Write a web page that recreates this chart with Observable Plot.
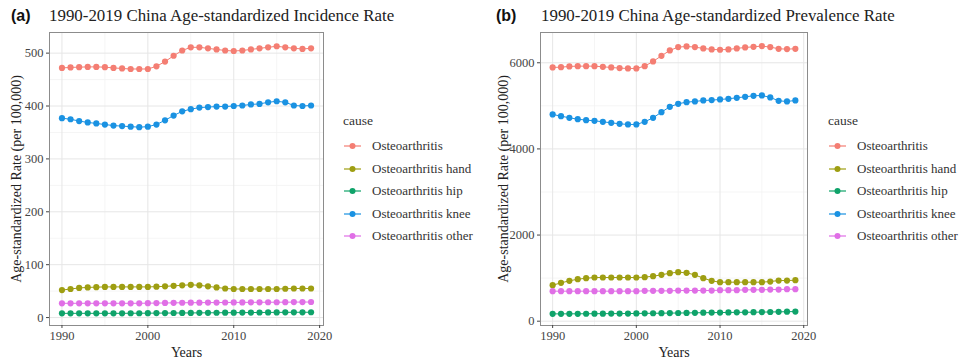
<!DOCTYPE html>
<html>
<head>
<meta charset="utf-8">
<script src="https://cdn.jsdelivr.net/npm/d3@7"></script>
<script src="https://cdn.jsdelivr.net/npm/@observablehq/plot@0.6"></script>
<style>
  html, body { margin: 0; padding: 0; background: #fff; }
  #root { position: relative; width: 960px; height: 362px; overflow: hidden; font-family: "Liberation Serif", serif; }
  .panel { position: absolute; top: 0; }
  .tag { position: absolute; font-family: "Liberation Sans", Arial, sans-serif; font-weight: bold; font-size: 16px; color: #111; line-height: 20px; }
  .ttl { position: absolute; font-family: "Liberation Serif", serif; font-size: 16.9px; color: #222; white-space: nowrap; line-height: 20px; }
  .legend { position: absolute; font-family: "Liberation Serif", serif; color: #333; }
  .legend .lt { font-size: 13.5px; margin-bottom: 6px; }
  .legend .it { display: flex; align-items: center; height: 22.5px; font-size: 13px; white-space: nowrap; }
  .legend svg { margin-right: 10px; }
</style>
</head>
<body>
<div id="root"></div>
<script>
const years = d3.range(1990, 2020);
const causes = ["Osteoarthritis", "Osteoarthritis hand", "Osteoarthritis hip", "Osteoarthritis knee", "Osteoarthritis other"];
const colors = ["#F47E73", "#9E9E12", "#0FA36A", "#1A92E2", "#E06FE6"];

// (a) incidence
const incOA    = [472,473,473.5,474,474,473.5,472,471,470,470,470,475,484,495,505,511,511,509,507,505,504,505,507,509,511,513,511,509,508,509];
const incHand  = [52,54,56,57,57.5,58,58,58,58,58,58,58.5,59,60,61,62,61,59,57,55,54,54,54,54,54,54,54.5,55,55,55];
const incHip   = [8,8,8,8,8,8,8,8,8.2,8.2,8.3,8.4,8.5,8.6,8.7,8.8,8.9,9,9.1,9.2,9.3,9.4,9.5,9.6,9.7,9.8,9.9,10,10,10.1];
const incKnee  = [377,375,371.5,369,367,365,363,362,361,360,361,365,373,382,390,394,397,398,399,399,400,401,403,404,407,409,407,401,400,401];
const incOther = [27,27,27,27,27,27,27,27,27,27,27.2,27.4,27.6,27.8,28,28.1,28.2,28.3,28.4,28.5,28.6,28.7,28.8,28.9,29,29,29.1,29.2,29.3,29.4];

// (b) prevalence
const prevOA    = [5891,5899,5915,5922,5922,5922,5907,5891,5876,5868,5868,5922,6031,6162,6286,6364,6379,6364,6333,6310,6302,6310,6333,6356,6371,6387,6364,6325,6317,6325];
const prevHand  = [836,890,937,975,998,1014,1014,1014,1014,1014,1014,1022,1045,1076,1115,1138,1122,1076,998,937,906,906,906,906,906,906,921,944,944,952];
const prevHip   = [170,170,171,172,173,174,175,176,177,178,180,182,184,186,188,190,192,195,197,199,201,203,205,207,209,211,214,217,220,224];
const prevKnee  = [4800,4761,4722,4691,4668,4653,4630,4606,4583,4568,4568,4630,4722,4854,4978,5048,5086,5102,5125,5133,5148,5164,5187,5210,5233,5241,5195,5117,5102,5125];
const prevOther = [697,697,697,697,697,697,697,697,697,697,697,704,704,704,704,712,712,712,712,712,720,720,720,728,728,728,735,735,743,743];

const yTicksA = [0,100,200,300,400,500];
const yTicksB = [0,2000,4000,6000];
const xTicks = [1990,2000,2010,2020];
const xMinor = [1995,2005,2015];

function toRows(series) {
  const rows = [];
  series.forEach((vals, i) => vals.forEach((v, j) => rows.push({year: years[j], value: v, cause: causes[i]})));
  return rows;
}

function panel(opts) {
  const rows = toRows(opts.series);
  const yMinor = opts.yTicks.slice(0, -1).map((t, i) => (t + opts.yTicks[i+1]) / 2);
  yMinor.push(opts.yTicks[opts.yTicks.length-1] + (opts.yTicks[1]-opts.yTicks[0])/2);
  const fr = opts.frame;
  return Plot.plot({
    width: 480, height: 362,
    marginLeft: fr.left, marginRight: 480 - fr.right, marginTop: fr.top, marginBottom: 362 - fr.bottom,
    style: {fontFamily: "Liberation Serif, serif", fontSize: "12px", color: "#4d4d4d", background: "transparent", overflow: "visible"},
    x: {domain: [1988.55, 2020.45]},
    y: {domain: opts.yDomain},
    color: {domain: causes, range: colors},
    marks: [
      Plot.gridX(xMinor, {stroke: "#f2f2f2", strokeOpacity: 1, strokeWidth: 0.8}),
      Plot.gridY(yMinor.filter(v => v < opts.yDomain[1]), {stroke: "#f2f2f2", strokeOpacity: 1, strokeWidth: 0.8}),
      Plot.gridX(xTicks, {stroke: "#e6e6e6", strokeOpacity: 1, strokeWidth: 1}),
      Plot.gridY(opts.yTicks, {stroke: "#e6e6e6", strokeOpacity: 1, strokeWidth: 1}),
      Plot.line(rows, {x: "year", y: "value", z: "cause", stroke: "cause", strokeWidth: 1}),
      Plot.dot(rows, {x: "year", y: "value", fill: "cause", r: 3.1}),
      Plot.frame({stroke: "#8c8c8c", strokeWidth: 1}),
      Plot.axisX(xTicks, {tickSize: 3, tickPadding: 3, tickFormat: d => String(d), label: null, fontSize: 12.5, fill: "#444", stroke: "#444"}),
      Plot.axisY(opts.yTicks, {tickSize: 3, tickPadding: 3, tickFormat: d => String(d), label: null, fontSize: 12.5, fill: "#444", stroke: "#444"}),
      Plot.text(["Age-standardized Rate (per 100,000)"], {frameAnchor: "left", textAnchor: "middle", rotate: -90, dx: opts.ylabDx, fontSize: 14, fill: "#222", lineAnchor: "middle"}),
      Plot.text(["Years"], {frameAnchor: "bottom", dy: 27, fontSize: 14, fill: "#222", lineAnchor: "middle"})
    ]
  });
}

function legend(left, top) {
  const div = document.createElement("div");
  div.className = "legend";
  div.style.left = left + "px";
  div.style.top = top + "px";
  const t = document.createElement("div");
  t.className = "lt";
  t.textContent = "cause";
  div.appendChild(t);
  causes.forEach((c, i) => {
    const it = document.createElement("div");
    it.className = "it";
    it.innerHTML = `<svg width="19" height="12"><line x1="1" y1="6" x2="18" y2="6" stroke="${colors[i]}" stroke-width="1.2"/><circle cx="9.5" cy="6" r="3" fill="${colors[i]}"/></svg><span>${c}</span>`;
    div.appendChild(it);
  });
  return div;
}

const root = document.getElementById("root");

const pa = panel({
  series: [incOA, incHand, incHip, incKnee, incOther],
  frame: {left: 49, right: 323, top: 32, bottom: 325},
  yDomain: [-15, 539],
  yTicks: yTicksA,
  ylabDx: -33
});
const wa = document.createElement("div"); wa.className = "panel"; wa.style.left = "0px"; wa.appendChild(pa); root.appendChild(wa);

const pb = panel({
  series: [prevOA, prevHand, prevHip, prevKnee, prevOther],
  frame: {left: 60, right: 327, top: 32, bottom: 325},
  yDomain: [-100, 6703],
  yTicks: yTicksB,
  ylabDx: -37
});
const wb = document.createElement("div"); wb.className = "panel"; wb.style.left = "480px"; wb.appendChild(pb); root.appendChild(wb);

function addText(cls, txt, left, top) {
  const d = document.createElement("div");
  d.className = cls; d.textContent = txt;
  d.style.left = left + "px"; d.style.top = top + "px";
  root.appendChild(d);
}
addText("tag", "(a)", 11, 6);
addText("ttl", "1990-2019 China Age-standardized Incidence Rate", 49, 6);
addText("tag", "(b)", 496, 6);
addText("ttl", "1990-2019 China Age-standardized Prevalence Rate", 541, 6);

root.appendChild(legend(343, 113));
root.appendChild(legend(828, 113));
</script>
</body>
</html>
